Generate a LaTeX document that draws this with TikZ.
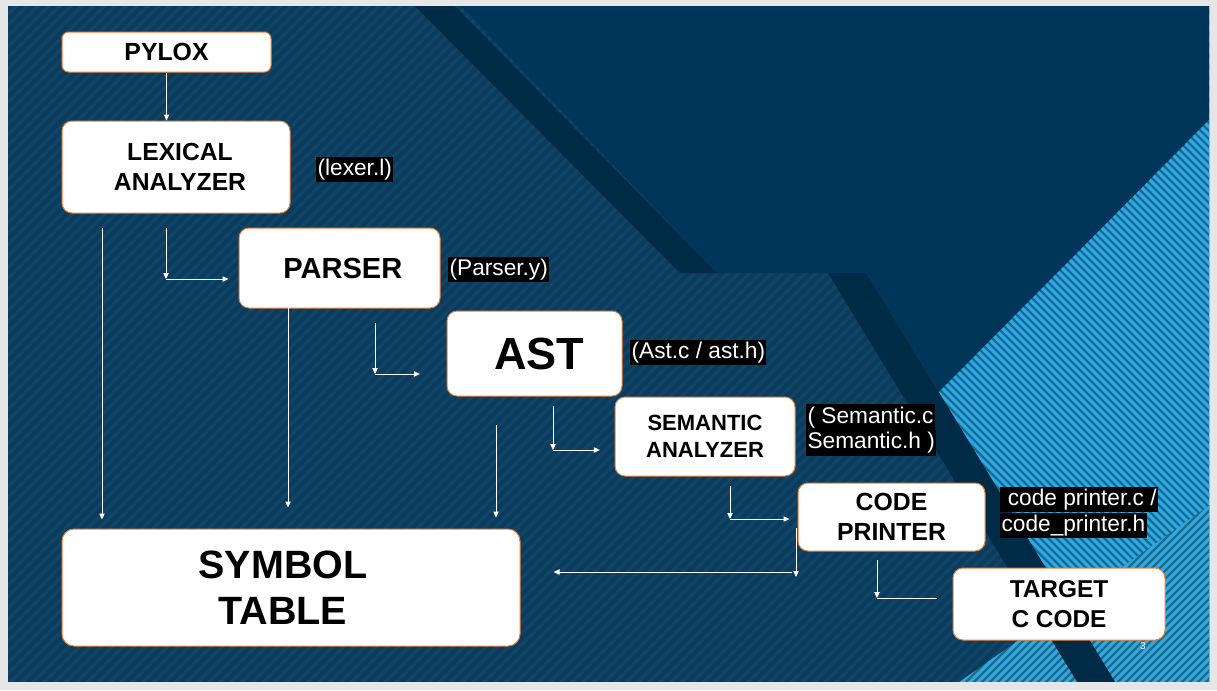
\documentclass[tikz,border=0pt]{standalone}
\usepackage{fontspec}
\setmainfont{Liberation Sans}
\usetikzlibrary{arrows.meta}
\definecolor{slidegray}{HTML}{E6E6E6}
\definecolor{navybase}{HTML}{0B3B5D}
\definecolor{navystripe}{HTML}{114567}
\definecolor{navysolid}{HTML}{01355A}
\definecolor{navyband}{HTML}{002B47}
\definecolor{skyblue}{HTML}{2DAAEB}
\definecolor{skyteal}{HTML}{1F6A85}
\definecolor{boxorange}{HTML}{ED7D31}
\tikzstyle{stage} = [draw=boxorange, line width=0.75pt, fill=white, rounded corners=7.5pt, align=center, text=black, inner sep=0pt]
\tikzstyle{tag} = [fill=black, text=white, inner xsep=1pt, inner ysep=1pt, text height=13pt, text depth=4pt, font=\fontsize{17}{19.5}\selectfont, anchor=west]
\tikzstyle{flow} = [draw=white, line width=0.75pt, -{Triangle[length=4.5pt,width=4pt]}]

\begin{document}
\begin{tikzpicture}[x=0.75pt, y=-0.75pt]
	\useasboundingbox (0,0) rectangle (1217,690);
	\fill[slidegray] (0,0) rectangle (1217,690);
	\begin{scope}
		\clip (8,6) rectangle (1209,681);
		\fill[navybase] (0,0) rectangle (1217,690);
		\foreach \s in {-700,-689,...,1220}
			\draw[navystripe, line width=2.6pt] (\s,700) -- ++(710,-710);
		\fill[navysolid] (455,0) -- (1217,0) -- (1217,112) -- (939,392) -- (866,273) -- (717,273) -- cycle;
		\fill[navyband] (409,0) -- (449,0) -- (717,273) -- (680,273) -- cycle;
		\begin{scope}
			\clip (939,392) -- (1217,112) -- (1217,690) -- (1120,690) -- cycle;
			\fill[skyteal] (900,100) rectangle (1217,690);
			\foreach \s in {350,358,...,1210}
				\draw[skyblue, line width=2.2pt] (\s,100) -- ++(610,610);
		\end{scope}
		\begin{scope}
			\clip (948,690) -- (1217,500) -- (1217,690) -- cycle;
			\fill[skyteal] (940,490) rectangle (1217,690);
			\foreach \s in {920,928,...,1230}
				\draw[skyblue, line width=2.2pt] (\s,700) -- ++(320,-320);
		\end{scope}
		\fill[navyband] (828,273) -- (866,273) -- (1120,690) -- (1082,690) -- cycle;
	\end{scope}

	\node[stage, minimum width=156.75pt, minimum height=30pt, rounded corners=5pt, font=\bfseries\fontsize{18.6}{22}\selectfont] (pylox) at (166.5,52) {PYLOX};
	\node[stage, minimum width=171pt, minimum height=69pt, font=\bfseries\fontsize{18.5}{22.5}\selectfont] (lexer) at (176,167) {\hspace*{6pt}LEXICAL\\\hspace*{6pt}ANALYZER};
	\node[stage, minimum width=150.75pt, minimum height=60pt, font=\bfseries\fontsize{21.8}{26}\selectfont] (parser) at (339.5,268) {\hspace*{5pt}PARSER};
	\node[stage, minimum width=131.25pt, minimum height=63.75pt, font=\bfseries\fontsize{33.8}{40}\selectfont] (ast) at (534.5,353.5) {\hspace*{7pt}AST};
	\node[stage, minimum width=135pt, minimum height=59.25pt, font=\bfseries\fontsize{16.5}{20}\selectfont] (sem) at (705,436.5) {SEMANTIC\\ANALYZER};
	\node[stage, minimum width=140.25pt, minimum height=51pt, font=\bfseries\fontsize{18.6}{22.5}\selectfont] (printer) at (891.5,517) {CODE\\PRINTER};
	\node[stage, minimum width=159pt, minimum height=54pt, font=\bfseries\fontsize{18.3}{22.5}\selectfont] (target) at (1059,604) {TARGET\\C CODE};
	\node[stage, minimum width=343.5pt, minimum height=87.75pt, rounded corners=9pt, font=\bfseries\fontsize{29.6}{34.5}\selectfont] (symtab) at (291,587.5) {SYMBOL\hspace*{12pt}\\TABLE\hspace*{12pt}};

	\node[tag] (lexl) at (316,169.5) {(lexer.l)};
	\node[tag] (pary) at (448,269.5) {(Parser.y)};
	\node[tag] (asth) at (630,352.5) {(Ast.c / ast.h)};
	\node[tag] (semA) at (806,417) {( Semantic.c};
	\node[tag, anchor=north west] (semB) at (semA.south west) {Semantic.h )};
	\node[tag] (codeA) at (1000,499.5) {\ code printer.c /};
	\node[tag, anchor=north west] (codeB) at (codeA.south west) {code\_printer.h\ };
	\node[text=white, font=\fontsize{7.5}{9}\selectfont] (pagenum) at (1143,646) {3};

	\coordinate (lp0) at (166,228);
	\coordinate (lp1) at (166,279);
	\coordinate (pa0) at (375,323);
	\coordinate (pa1) at (375,374);
	\coordinate (as0) at (553,406);
	\coordinate (as1) at (553,450);
	\coordinate (sp0) at (730,486);
	\coordinate (sp1) at (730,519);
	\coordinate (pt0) at (877,560);
	\coordinate (pt1) at (877,598);
	\coordinate (ls0) at (102,228);
	\coordinate (ps0) at (288,308);
	\coordinate (as2) at (496,425);
	\coordinate (ys0) at (796,528);
	\coordinate (ys1) at (796,577);
	\coordinate (ys2) at (792,572);

	\draw[flow] (pylox.south) -- (pylox.south |- lexer.north);
	\draw[flow] (lp0) -- (lp1);
	\draw[flow, shorten >=7.5pt] (lp1) -- (lp1 -| parser.west);
	\draw[flow] (pa0) -- (pa1);
	\draw[flow, shorten >=20pt] (pa1) -- (pa1 -| ast.west);
	\draw[flow] (as0) -- (as1);
	\draw[flow, shorten >=11pt] (as1) -- (as1 -| sem.west);
	\draw[flow] (sp0) -- (sp1);
	\draw[flow, shorten >=6pt] (sp1) -- (sp1 -| printer.west);
	\draw[flow] (pt0) -- (pt1);
	\draw[white, line width=0.75pt, shorten >=12pt] (pt1) -- (pt1 -| target.west);
	\draw[flow, shorten >=6.75pt] (ls0) -- (ls0 |- symtab.north);
	\draw[flow, shorten >=15.75pt] (ps0) -- (ps0 |- symtab.north);
	\draw[flow, shorten >=8.25pt] (as2) -- (as2 |- symtab.north);
	\draw[flow] (ys0) -- (ys1);
	\draw[flow, shorten >=24.75pt] (ys2) -- (ys2 -| symtab.east);
\end{tikzpicture}
\end{document}
